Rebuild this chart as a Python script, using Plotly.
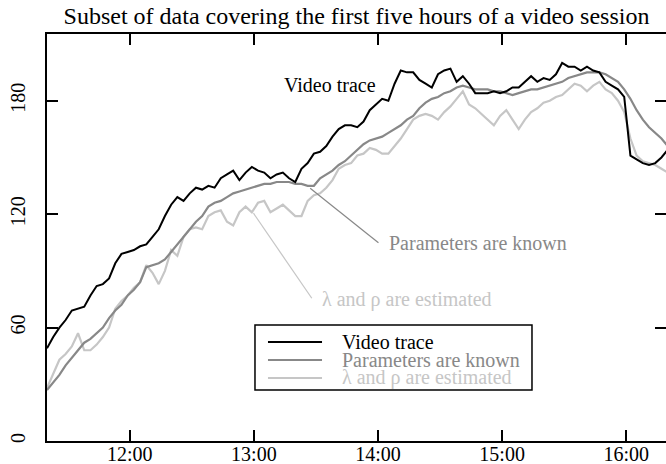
import pandas as pd
import plotly.graph_objects as go

# ---------------- data ----------------
session_start = "2000-01-01 11:20"
sample_minutes = list(range(0, 301, 3))  # minutes after 11:20

video_trace = [49, 55, 60, 64, 69, 70, 71, 77, 82, 83,
               86, 94, 99, 100, 101, 103, 104, 108, 112, 119,
               125, 129, 127, 131, 134, 133, 135, 134, 139, 141,
               143, 138, 142, 145, 143, 142, 139, 141, 142, 139,
               137, 144, 147, 152, 153, 156, 161, 165, 167, 167,
               166, 169, 175, 178, 181, 180, 189, 196, 195, 195,
               191, 189, 187, 194, 196, 197, 190, 193, 189, 184,
               184, 184, 185, 184, 185, 187, 187, 190, 193, 190,
               192, 191, 194, 200, 198, 198, 196, 198, 196, 195,
               190, 188, 186, 182, 151, 149, 147, 146, 147, 150,
               154]

params_known = [27, 31, 35, 40, 44, 48, 52, 54, 57, 60,
                65, 69, 72, 77, 80, 84, 92, 93, 94, 96,
                100, 104, 108, 112, 116, 119, 124, 126, 127, 129,
                131, 132, 133, 134, 135, 136, 136, 137, 137, 137,
                136, 136, 135, 135, 139, 141, 143, 146, 148, 151,
                154, 157, 159, 160, 161, 163, 165, 167, 170, 172,
                176, 179, 181, 182, 184, 185, 187, 188, 187, 186,
                186, 186, 185, 185, 184, 183, 184, 185, 186, 186,
                187, 188, 189, 190, 192, 193, 194, 195, 195, 195,
                194, 192, 190, 186, 181, 175, 170, 166, 163, 160,
                156]

params_estimated = [28, 36, 43, 46, 50, 57, 48, 48, 51, 55,
                    60, 70, 74, 77, 81, 84, 93, 89, 83, 90,
                    101, 98, 108, 112, 113, 112, 119, 121, 122, 116,
                    114, 121, 124, 121, 126, 127, 121, 123, 125, 122,
                    119, 119, 127, 130, 131, 134, 138, 144, 146, 147,
                    151, 152, 155, 154, 152, 152, 156, 160, 165, 170,
                    172, 173, 172, 170, 174, 177, 181, 185, 178, 176,
                    173, 170, 167, 172, 175, 170, 165, 170, 174, 176,
                    179, 180, 182, 183, 186, 189, 188, 185, 188, 190,
                    186, 184, 180, 174, 160, 151, 148, 147, 146, 144,
                    142]

series_names = ["Video trace", "Parameters are known", "λ and ρ are estimated"]
hour_ticks = ["12:00", "13:00", "14:00", "15:00", "16:00"]
y_ticks = [0, 60, 120, 180]

# ---------------- helpers ----------------
t0 = pd.Timestamp(session_start)


def tm(m):
    return t0 + pd.Timedelta(minutes=m)


times = [tm(m) for m in sample_minutes]
tick_times = [pd.Timestamp("2000-01-01 " + h) for h in hour_ticks]

FONT = "Liberation Serif, Times New Roman, serif"
BLACK = "#000000"
DARK = "#888888"
LIGHT = "#c6c6c6"
colors = [BLACK, DARK, LIGHT]

fig = go.Figure()
fig.add_trace(go.Scatter(x=times, y=params_estimated, mode="lines",
                         line=dict(color=LIGHT, width=2.2), name=series_names[2],
                         showlegend=False))
fig.add_trace(go.Scatter(x=times, y=params_known, mode="lines",
                         line=dict(color=DARK, width=2.2), name=series_names[1],
                         showlegend=False))
fig.add_trace(go.Scatter(x=times, y=video_trace, mode="lines",
                         line=dict(color=BLACK, width=2), name=series_names[0],
                         showlegend=False))

axis_common = dict(showline=True, linecolor="black", linewidth=1.5, mirror="ticks",
                   ticks="inside", ticklen=11, tickwidth=1.5, tickcolor="black",
                   showgrid=False, zeroline=False, automargin=False,
                   tickfont=dict(family=FONT, size=20, color="black"))

fig.update_layout(
    width=666, height=464,
    margin=dict(l=47, r=0, t=34, b=23),
    paper_bgcolor="white", plot_bgcolor="white",
    font=dict(family=FONT, size=20, color="black"),
    title=dict(text="Subset of data covering the first five hours of a video session",
               x=0.5, xref="paper", xanchor="center",
               y=1 - 16 / 464, yref="container", yanchor="middle",
               font=dict(family=FONT, size=24, color="black")),
    xaxis=dict(type="date", range=[tm(0), tm(299.2)],
               tickvals=tick_times, ticktext=hour_ticks,
               ticklabelstandoff=-6, **axis_common),
    yaxis=dict(range=[0, 215.3], tickvals=y_ticks, ticktext=[str(v) for v in y_ticks],
               tickangle=-90, ticklabelstandoff=12, **axis_common),
    showlegend=False,
)

# ---------------- legend box (boxed key, as in the reference) ----------------
fig.add_shape(type="rect", xref="paper", yref="paper", x0=0.336, x1=0.7835, y0=0.1253, y1=0.285,
              fillcolor="white", line=dict(color="black", width=1.5), layer="above")
legend_rows = [0.2432, 0.199, 0.1548]
for name, col, yy in zip(series_names, colors, legend_rows):
    fig.add_shape(type="line", xref="paper", yref="paper", x0=0.357, x1=0.4443, y0=yy, y1=yy,
                  line=dict(color=col, width=2), layer="above")
    fig.add_annotation(xref="paper", yref="paper", x=0.4733, y=yy, text=name,
                       xanchor="left", yanchor="middle", showarrow=False,
                       font=dict(family=FONT, size=20, color=col))

# ---------------- text labels ----------------
fig.add_annotation(x=tm(136.9), y=188.3, text="Video trace", showarrow=False,
                   font=dict(family=FONT, size=20, color=BLACK))
fig.add_annotation(x=tm(208.4), y=104.8, text="Parameters are known", showarrow=False,
                   font=dict(family=FONT, size=20, color=DARK))
fig.add_annotation(x=tm(173.8), y=74.6, text="λ and ρ are estimated", showarrow=False,
                   font=dict(family=FONT, size=20, color=LIGHT))

# leader lines
fig.add_shape(type="line", xref="x", yref="y", x0=tm(127.2), y0=133.7, x1=tm(160.2), y1=104.9,
              line=dict(color=DARK, width=1.2))
fig.add_shape(type="line", xref="x", yref="y", x0=tm(99.8), y0=120.5, x1=tm(128.0), y1=75.5,
              line=dict(color=LIGHT, width=1.2))

fig.write_html("out.html", config={"displayModeBar": False},
               post_script="document.body.style.margin='0px';")
